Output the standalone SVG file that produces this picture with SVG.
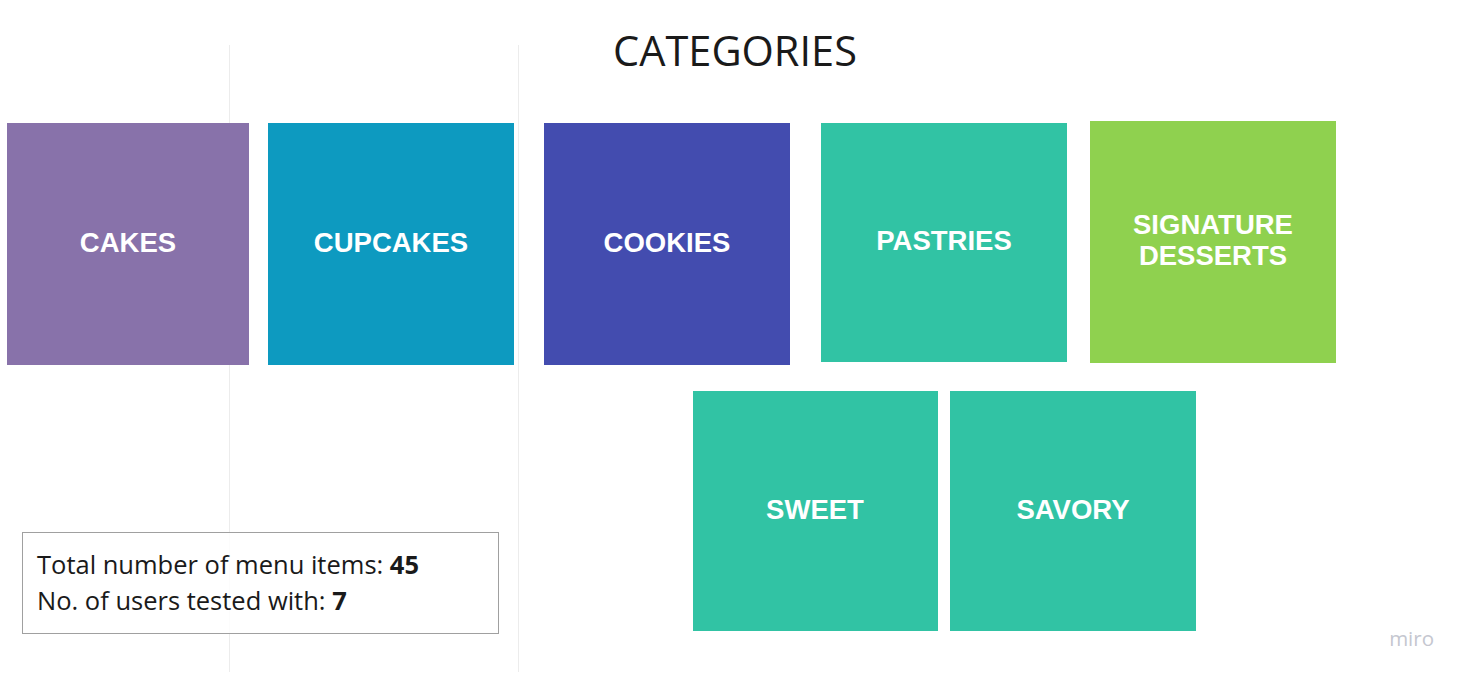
<svg xmlns="http://www.w3.org/2000/svg" width="1469" height="680" viewBox="0 0 1469 680">
<style>
.card{stroke:none}
.lbl{font-family:"Liberation Sans",Arial,sans-serif;font-weight:bold;font-size:27.5px;fill:#ffffff;text-anchor:middle}
.info{font-family:"Open Sans",sans-serif;font-size:25.5px;fill:#1a1a1a}
.grid{stroke:#ececec;stroke-width:1}
</style>
<rect width="1469" height="680" fill="#ffffff"/>
<g id="gridlines">
<line class="grid" x1="229.5" y1="45" x2="229.5" y2="672"/>
<line class="grid" x1="518.5" y1="45" x2="518.5" y2="672"/>
</g>
<text x="735" y="66" font-family="Open Sans, sans-serif" font-size="41.5" fill="#1a1a1a" text-anchor="middle">CATEGORIES</text>
<g id="cakes"><rect class="card" x="7" y="123" width="242" height="242" fill="#8872aa"/><text class="lbl" x="128" y="252">CAKES</text></g>
<g id="cupcakes"><rect class="card" x="268" y="123" width="246" height="242" fill="#0d9ac0"/><text class="lbl" x="391" y="252">CUPCAKES</text></g>
<g id="cookies"><rect class="card" x="544" y="123" width="246" height="242" fill="#434caf"/><text class="lbl" x="667" y="252">COOKIES</text></g>
<g id="pastries"><rect class="card" x="821" y="123" width="246" height="239" fill="#31c3a4"/><text class="lbl" x="944" y="250">PASTRIES</text></g>
<g id="signature"><rect class="card" x="1090" y="121" width="246" height="242" fill="#8fd14f"/><text class="lbl" x="1213" y="234">SIGNATURE</text><text class="lbl" x="1213" y="265">DESSERTS</text></g>
<g id="sweet"><rect class="card" x="693" y="391" width="245" height="240" fill="#31c3a4"/><text class="lbl" x="815" y="519">SWEET</text></g>
<g id="savory"><rect class="card" x="950" y="391" width="246" height="240" fill="#31c3a4"/><text class="lbl" x="1073" y="519">SAVORY</text></g>
<g id="info">
<rect x="22.5" y="532.5" width="476" height="101" fill="#ffffff" fill-opacity="0.85" stroke="#a0a0a0" stroke-width="1"/>
<text class="info" x="37" y="574">Total number of menu items: <tspan font-weight="bold">45</tspan></text>
<text class="info" x="37" y="610">No. of users tested with: <tspan font-weight="bold">7</tspan></text>
</g>
<text x="1434" y="646" font-family="Open Sans, sans-serif" font-size="20.5" fill="#c5c7d0" text-anchor="end">miro</text>
</svg>
